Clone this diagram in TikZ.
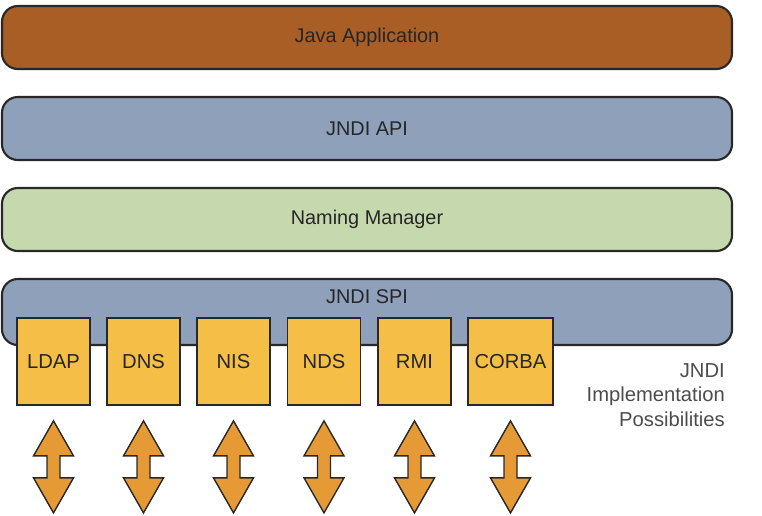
\documentclass[tikz,border=0pt]{standalone}
\usepackage{fontspec}
\setmainfont{Liberation Sans}
\definecolor{appcol}{RGB}{168,94,36}
\definecolor{apicol}{RGB}{143,160,187}
\definecolor{mgrcol}{RGB}{198,216,174}
\definecolor{implcol}{RGB}{245,190,70}
\definecolor{arrcol}{RGB}{229,154,53}
\definecolor{edgecol}{RGB}{40,40,40}
\tikzset{
  layer/.style={draw=edgecol,line width=1.2pt,rounded corners=9pt,minimum width=14.6cm,minimum height=1.26cm,font=\fontsize{11.3}{14}\selectfont,text=black!85},
  impl/.style={draw=edgecol,line width=1pt,fill=implcol,minimum width=1.46cm,minimum height=1.74cm,font=\fontsize{11.5}{14}\selectfont,text=black!85},
  ioarrow/.style={draw=edgecol,line width=0.8pt,fill=arrcol,line join=miter}
}
\begin{document}
\begin{tikzpicture}
    \useasboundingbox (0,0) rectangle (15.24,-10.3);
    \node[layer,fill=appcol] (app) at (7.34,-0.75) {Java Application};
    \node[layer,fill=apicol] (api) at (7.34,-2.57) {JNDI API};
    \node[layer,fill=mgrcol] (mgr) at (7.34,-4.39) {Naming Manager};
    \node[layer,fill=apicol,minimum height=1.32cm] (spi) at (7.34,-6.24) {};
    \node[font=\fontsize{11.3}{14}\selectfont,text=black!85] (spitext) at (7.34,-5.94) {JNDI SPI};
    % service providers
    \node[impl] (ldap) at (1.07,-7.23) {LDAP};
    \node[impl] (dns) at (2.87,-7.23) {DNS};
    \node[impl] (nis) at (4.67,-7.23) {NIS};
    \node[impl] (nds) at (6.48,-7.23) {NDS};
    \node[impl] (rmi) at (8.29,-7.23) {RMI};
    \node[impl,minimum width=1.7cm] (corba) at (10.21,-7.23) {CORBA};
    \node[align=right,anchor=east,font=\fontsize{11.5}{14}\selectfont,text=black!70] (implnote) at (14.62,-7.9) {JNDI\\Implementation\\Possibilities};
    % two-way arrows below each provider
    \foreach \b in {ldap,dns,nis,nds,rmi,corba}
        \draw[ioarrow] ([yshift=-0.3cm]\b.south) -- ++(0.4,-0.7) -- ++(-0.27,0) -- ++(0,-0.44) -- ++(0.27,0)
            -- ++(-0.4,-0.7) -- ++(-0.4,0.7) -- ++(0.27,0) -- ++(0,0.44) -- ++(-0.27,0) -- cycle;
\end{tikzpicture}
\end{document}
